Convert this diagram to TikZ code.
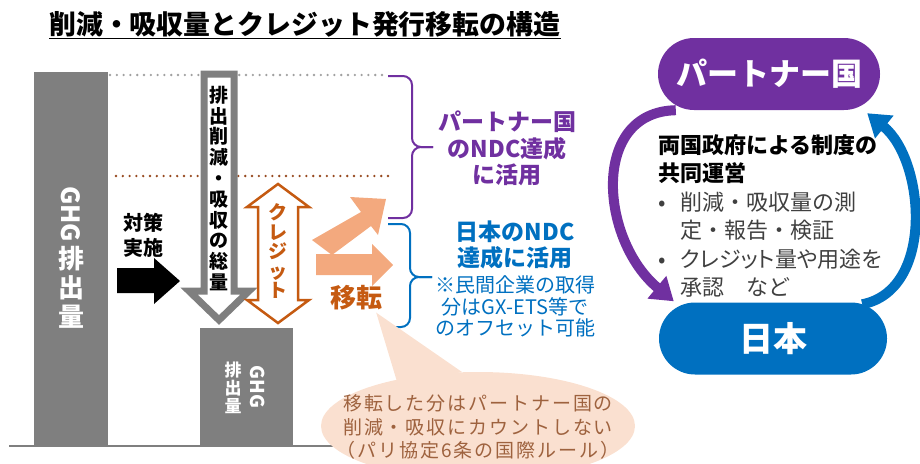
\documentclass[tikz,border=0pt]{standalone}
\usepackage{fontspec}
\setmainfont{Noto Sans CJK JP}
\usepackage{xcolor}
\usepackage{tikz}
\usetikzlibrary{arrows.meta}

\definecolor{ghggray}{RGB}{127,127,127}
\definecolor{dotgray}{RGB}{160,160,160}
\definecolor{dotbrown}{RGB}{150,72,30}
\definecolor{partnerpurple}{RGB}{112,48,160}
\definecolor{japanblue}{RGB}{0,112,192}
\definecolor{creditorange}{RGB}{197,90,17}
\definecolor{transferorange}{RGB}{243,169,126}
\definecolor{notefill}{RGB}{250,224,208}
\definecolor{notetext}{RGB}{158,98,62}
\definecolor{rulegray}{RGB}{64,64,64}

\begin{document}
\begin{tikzpicture}[x=1pt, y=-1pt, inner sep=0pt,
    vtext/.style={align=center},
    pill/.style={rounded corners=36pt, minimum width=222pt, minimum height=72pt, text=white},
    bracestroke/.style={rounded corners=9pt, line width=2pt},
    dotline/.style={line width=2.6pt, line cap=round, dash pattern=on 0pt off 6.8pt}]
    \useasboundingbox (0,0) rectangle (920,463);
    \clip (0,0) rectangle (920,463);

    % title
    \node[anchor=base west, font=\fontsize{26.9}{30}\selectfont\bfseries] (title) at (49,34) {削減・吸収量とクレジット発行移転の構造};
    \draw[line width=1.5pt] ([yshift=-1.5pt]title.south west) -- ([yshift=-1.5pt]title.south east);

    % levels
    \draw[dotline, dotgray] (110,75) -- (388,75);
    \draw[dotline, dotbrown] (116,176) -- (392,176);

    % emission bars
    \node[fill=ghggray, minimum width=74pt, minimum height=374pt] (before) at (71,259) {};
    \node[fill=ghggray, minimum width=93pt, minimum height=118pt] (after) at (246.5,387) {};
    \draw[ghggray, line width=2.5pt] (9,446) -- (340,446);
    \node[rotate=-90, text=white, font=\fontsize{25}{25}\selectfont\bfseries] (ghgbefore) at (71,214) {GHG};
    \node[vtext, text=white, font=\fontsize{26}{29}\selectfont\bfseries] (emitbefore) at (71,287) {排\\出\\量};
    \node[rotate=-90, text=white, font=\fontsize{19}{19}\selectfont\bfseries] (ghgafter) at (258,387) {GHG};
    \node[vtext, text=white, font=\fontsize{17}{18}\selectfont\bfseries] (emitafter) at (233,388) {排\\出\\量};

    % reduction and credit arrows
    \draw[ghggray, line width=7pt, fill=white] (204,74) -- (234,74) -- (234,291) -- (249,291) -- (219,320) -- (189,291) -- (204,291) -- cycle;
    \node[vtext, font=\fontsize{19}{20.8}\selectfont\bfseries] (reducttext) at (219,188.5) {排\\出\\削\\減\\・\\吸\\収\\の\\総\\量};
    \draw[creditorange, line width=2.5pt, fill=white] (278,184) -- (309,207) -- (298,207) -- (298,300) -- (309,300) -- (278,323) -- (247,300) -- (258,300) -- (258,207) -- (247,207) -- cycle;
    \node[vtext, text=creditorange, font=\fontsize{19}{19.5}\selectfont\bfseries] (credittext) at (278,251) {ク\\レ\\ジ\\ッ\\ト};

    \fill (117,268) -- (154,268) -- (154,258) -- (180,281) -- (154,304) -- (154,293) -- (117,293) -- cycle;
    \node[vtext, font=\fontsize{20}{25}\selectfont\bfseries] (measure) at (143,235.5) {対策\\実施};

    % transfer
    \fill[transferorange] (316,254) -- (372,254) -- (372,244) -- (393,265) -- (372,286) -- (372,275) -- (316,275) -- cycle;
    \fill[transferorange] (312,240) -- (361,212) -- (350,197) -- (386,199) -- (378,235) -- (371,226) -- (332,255) -- cycle;
    \node[text=creditorange, font=\fontsize{26}{26}\selectfont\bfseries] (transfer) at (356,298) {移転};

    % braces
    \draw[bracestroke, partnerpurple] (388,76) -- (412,76) -- (412,147) -- (433,147);
    \draw[bracestroke, partnerpurple] (388,218) -- (412,218) -- (412,147) -- (433,147);
    \draw[bracestroke, japanblue] (388,224) -- (410,224) -- (410,277) -- (432,277);
    \draw[bracestroke, japanblue] (388,327) -- (410,327) -- (410,277) -- (432,277);

    \node[align=center, text=partnerpurple, font=\fontsize{23}{26.5}\selectfont\bfseries] (partneruse) at (507,148.5) {パートナー国\\のNDC達成\\に活用};
    \node[align=center, text=japanblue, font=\fontsize{23}{26}\selectfont\bfseries] (japanuse) at (515,245) {日本のNDC\\達成に活用};
    \node[align=center, text=japanblue, font=\fontsize{20}{21.5}\selectfont] (offset) at (515,306.5) {※民間企業の取得\\分はGX-ETS等で\\のオフセット可能};

    % note
    \fill[notefill] (478,426) ellipse [x radius=157, y radius=54];
    \fill[notefill] ([xshift=-6pt,yshift=-2pt]transfer.south east) -- (398,385) -- (462,372) -- cycle;
    \node[align=center, text=notetext, font=\fontsize{19}{23.5}\selectfont\addfontfeature{LetterSpace=10}] (note) at (478,427) {移転した分はパートナー国の\\削減・吸収にカウントしない\\（パリ協定6条の国際ルール）};

    % joint operation
    \node[pill, fill=partnerpurple, font=\fontsize{31}{31}\selectfont\bfseries] (partner) at (769,74) {パートナー国};
    \node[pill, fill=japanblue, minimum width=228pt, font=\fontsize{34}{34}\selectfont\bfseries] (japan) at (773,338.5) {日本};
    \draw[partnerpurple, line width=10pt, -{Triangle[width=28pt,length=22pt]}] ([xshift=18pt]partner.south west) .. controls (590,112) and (600,240) .. ([xshift=15pt,yshift=1pt]japan.north west);
    \draw[japanblue, line width=10pt, -{Triangle[width=28pt,length=22pt]}] ([xshift=-25pt,yshift=-2pt]japan.north east) .. controls (935,290) and (925,160) .. ([xshift=-13pt,yshift=-3pt]partner.south east);

    \node[anchor=north west, align=left, text=rulegray, font=\fontsize{22}{28.5}\selectfont] (rule) at (658,134) {\textcolor{black}{\textbf{両国政府による制度の}}\\\textcolor{black}{\textbf{共同運営}}\\\hspace*{4pt}\makebox[0pt]{•}\hspace*{18pt}削減・吸収量の測\\\hspace*{22pt}定・報告・検証\\\hspace*{4pt}\makebox[0pt]{•}\hspace*{18pt}{\addfontfeature{RawFeature=+palt}クレジット量や用途を}\\\hspace*{22pt}承認　など};
\end{tikzpicture}
\end{document}
